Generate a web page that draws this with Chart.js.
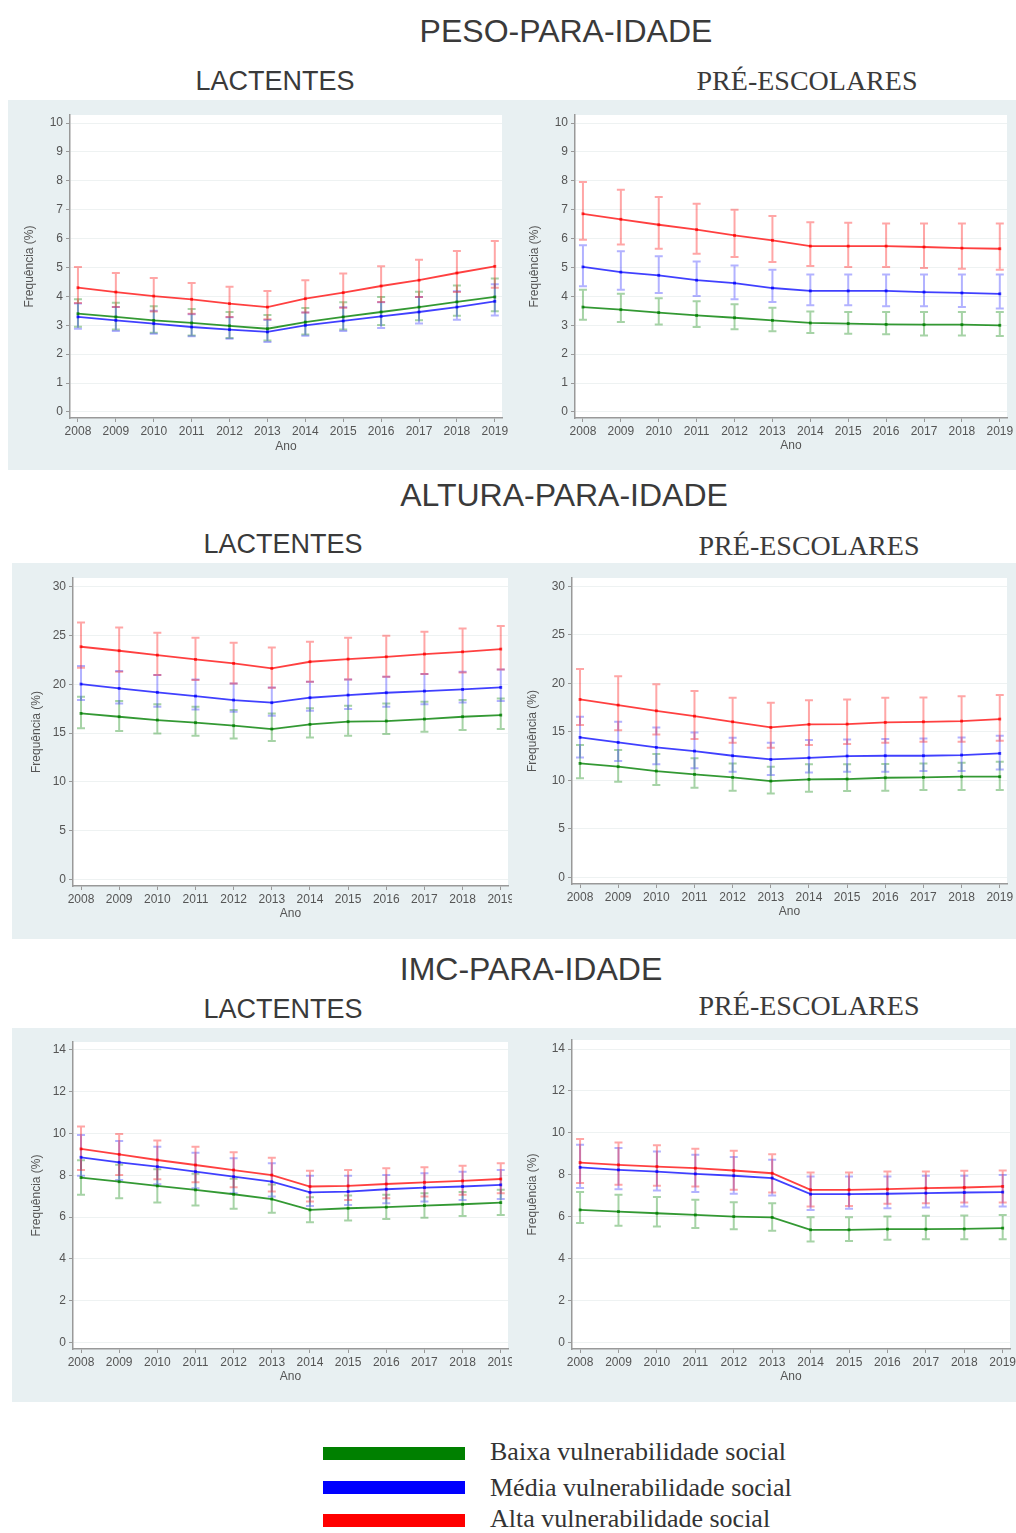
<!DOCTYPE html>
<html lang="pt-BR">
<head>
  <meta charset="UTF-8" />
  <title>Peso, altura e IMC para idade</title>
  <script src="https://cdn.jsdelivr.net/npm/chart.js@4"></script>
  <style>
    body { margin: 0; width: 1016px; height: 1533px; position: relative; overflow: hidden; background: #fff; font-family: "Liberation Sans", Arial, sans-serif; }
    .titulo { position: absolute; width: 440px; height: 40px; line-height: 40px; text-align: center; color: #3a3a3a; white-space: nowrap; }
    .indicador { font-size: 32px; }
    .lac { font-size: 27px; }
    .pre { font-size: 28px; font-family: "Liberation Serif", serif; }
    .painel { position: absolute; background: #e8f0f2; display: block; }
    .barra { position: absolute; left: 323px; width: 142px; height: 13px; }
    .rotulo { position: absolute; left: 490px; height: 30px; line-height: 30px; font-family: "Liberation Serif", serif; font-size: 26px; color: #333; white-space: nowrap; }
  </style>
</head>
<body>
  <div class="titulo indicador" style="left:346px; top:11px">PESO-PARA-IDADE</div>
  <div class="titulo lac" style="left:55px; top:61px">LACTENTES</div>
  <div class="titulo pre" style="left:587px; top:61px">PRÉ-ESCOLARES</div>

  <div class="titulo indicador" style="left:344px; top:475px">ALTURA-PARA-IDADE</div>
  <div class="titulo lac" style="left:63px; top:524px">LACTENTES</div>
  <div class="titulo pre" style="left:589px; top:526px">PRÉ-ESCOLARES</div>

  <div class="titulo indicador" style="left:311px; top:949px">IMC-PARA-IDADE</div>
  <div class="titulo lac" style="left:63px; top:989px">LACTENTES</div>
  <div class="titulo pre" style="left:589px; top:986px">PRÉ-ESCOLARES</div>

  <canvas id="g1" class="painel" width="502" height="370" style="left:8px; top:100px"></canvas>
  <canvas id="g2" class="painel" width="506" height="370" style="left:510px; top:100px"></canvas>
  <canvas id="g3" class="painel" width="500" height="376" style="left:12px; top:563px"></canvas>
  <canvas id="g4" class="painel" width="504" height="376" style="left:512px; top:563px"></canvas>
  <canvas id="g5" class="painel" width="500" height="374" style="left:12px; top:1028px"></canvas>
  <canvas id="g6" class="painel" width="504" height="374" style="left:512px; top:1028px"></canvas>

  <div class="barra" style="top:1447px; background:#008000"></div>
  <div class="rotulo" style="top:1437px">Baixa vulnerabilidade social</div>
  <div class="barra" style="top:1481px; background:#0000ff"></div>
  <div class="rotulo" style="top:1473px">Média vulnerabilidade social</div>
  <div class="barra" style="top:1514px; background:#ff0000"></div>
  <div class="rotulo" style="top:1504px">Alta vulnerabilidade social</div>

  <script>
    const anos = [2008, 2009, 2010, 2011, 2012, 2013, 2014, 2015, 2016, 2017, 2018, 2019];
    const ticksPeso = [0, 1, 2, 3, 4, 5, 6, 7, 8, 9, 10];
    const ticksAltura = [0, 5, 10, 15, 20, 25, 30];
    const ticksImc = [0, 2, 4, 6, 8, 10, 12, 14];

    // Peso-para-idade, lactentes
    const pesoLacBaixa = [3.40, 3.29, 3.17, 3.08, 2.98, 2.88, 3.11, 3.29, 3.46, 3.63, 3.81, 3.98];
    const pesoLacBaixaInf = [2.95, 2.85, 2.74, 2.65, 2.56, 2.47, 2.68, 2.85, 3.01, 3.17, 3.33, 3.49];
    const pesoLacBaixaSup = [3.90, 3.78, 3.66, 3.56, 3.46, 3.36, 3.60, 3.80, 3.98, 4.16, 4.38, 4.62];
    const pesoLacMedia = [3.29, 3.17, 3.06, 2.94, 2.85, 2.77, 3.00, 3.15, 3.31, 3.46, 3.63, 3.83];
    const pesoLacMediaInf = [2.88, 2.80, 2.71, 2.62, 2.53, 2.42, 2.64, 2.80, 2.91, 3.06, 3.19, 3.34];
    const pesoLacMediaSup = [3.75, 3.63, 3.50, 3.38, 3.28, 3.18, 3.44, 3.62, 3.80, 3.98, 4.18, 4.42];
    const pesoLacAlta = [4.30, 4.15, 4.01, 3.90, 3.75, 3.63, 3.92, 4.13, 4.36, 4.56, 4.81, 5.04];
    const pesoLacAltaInf = [3.77, 3.63, 3.48, 3.40, 3.29, 3.21, 3.44, 3.61, 3.81, 3.98, 4.15, 4.30];
    const pesoLacAltaSup = [5.02, 4.81, 4.64, 4.46, 4.33, 4.19, 4.56, 4.79, 5.04, 5.27, 5.57, 5.92];

    // Peso-para-idade, pré-escolares
    const pesoPreBaixa = [3.63, 3.54, 3.44, 3.34, 3.26, 3.17, 3.08, 3.06, 3.03, 3.02, 3.02, 3.00];
    const pesoPreBaixaInf = [3.19, 3.11, 3.03, 2.94, 2.86, 2.79, 2.73, 2.71, 2.69, 2.65, 2.65, 2.63];
    const pesoPreBaixaSup = [4.23, 4.09, 3.94, 3.83, 3.73, 3.61, 3.48, 3.46, 3.46, 3.46, 3.46, 3.46];
    const pesoPreMedia = [5.02, 4.84, 4.73, 4.56, 4.46, 4.29, 4.19, 4.19, 4.19, 4.15, 4.12, 4.09];
    const pesoPreMediaInf = [4.35, 4.23, 4.12, 4.01, 3.90, 3.81, 3.69, 3.69, 3.66, 3.66, 3.63, 3.58];
    const pesoPreMediaSup = [5.77, 5.56, 5.39, 5.21, 5.07, 4.92, 4.76, 4.76, 4.76, 4.76, 4.76, 4.76];
    const pesoPreAlta = [6.86, 6.67, 6.48, 6.31, 6.11, 5.94, 5.74, 5.74, 5.74, 5.71, 5.67, 5.65];
    const pesoPreAltaInf = [5.96, 5.80, 5.65, 5.48, 5.36, 5.19, 5.05, 5.02, 5.02, 4.98, 4.96, 4.92];
    const pesoPreAltaSup = [7.96, 7.69, 7.44, 7.21, 7.00, 6.78, 6.57, 6.55, 6.52, 6.52, 6.52, 6.52];

    // Altura-para-idade, lactentes
    const alturaLacBaixa = [17.01, 16.67, 16.33, 16.06, 15.75, 15.41, 15.89, 16.16, 16.23, 16.43, 16.67, 16.84];
    const alturaLacBaixaInf = [15.48, 15.20, 14.96, 14.72, 14.45, 14.18, 14.55, 14.72, 14.90, 15.13, 15.31, 15.41];
    const alturaLacBaixaSup = [18.72, 18.28, 17.94, 17.70, 17.36, 17.01, 17.53, 17.80, 18.04, 18.21, 18.38, 18.55];
    const alturaLacMedia = [20.02, 19.58, 19.17, 18.79, 18.38, 18.11, 18.62, 18.89, 19.13, 19.30, 19.47, 19.68];
    const alturaLacMediaInf = [18.38, 18.04, 17.70, 17.42, 17.18, 16.77, 17.29, 17.46, 17.70, 17.94, 18.14, 18.28];
    const alturaLacMediaSup = [21.87, 21.35, 20.94, 20.50, 20.09, 19.68, 20.26, 20.50, 20.77, 21.05, 21.28, 21.52];
    const alturaLacAlta = [23.85, 23.44, 22.99, 22.55, 22.14, 21.63, 22.31, 22.58, 22.82, 23.10, 23.33, 23.61];
    const alturaLacAltaInf = [21.69, 21.28, 20.94, 20.43, 20.09, 19.64, 20.26, 20.50, 20.77, 21.05, 21.22, 21.52];
    const alturaLacAltaSup = [26.34, 25.83, 25.28, 24.77, 24.26, 23.78, 24.36, 24.77, 24.97, 25.38, 25.73, 25.97];

    // Altura-para-idade, pré-escolares
    const alturaPreBaixa = [11.74, 11.40, 10.95, 10.61, 10.30, 9.92, 10.09, 10.13, 10.26, 10.30, 10.37, 10.37];
    const alturaPreBaixaInf = [10.20, 9.85, 9.51, 9.23, 8.93, 8.65, 8.82, 8.89, 8.93, 8.99, 8.99, 8.99];
    const alturaPreBaixaSup = [13.63, 13.11, 12.70, 12.26, 11.74, 11.40, 11.64, 11.64, 11.67, 11.74, 11.81, 11.91];
    const alturaPreMedia = [14.42, 13.90, 13.39, 13.01, 12.53, 12.15, 12.32, 12.50, 12.53, 12.53, 12.60, 12.77];
    const alturaPreMediaInf = [12.36, 11.98, 11.64, 11.23, 10.88, 10.54, 10.81, 10.88, 10.88, 10.95, 10.95, 11.12];
    const alturaPreMediaSup = [16.55, 16.03, 15.45, 14.93, 14.38, 13.87, 14.14, 14.21, 14.25, 14.31, 14.42, 14.59];
    const alturaPreAlta = [18.33, 17.75, 17.16, 16.61, 16.03, 15.45, 15.76, 15.79, 15.96, 16.03, 16.10, 16.31];
    const alturaPreAltaInf = [15.69, 15.17, 14.73, 14.25, 13.87, 13.35, 13.63, 13.73, 13.87, 13.97, 13.97, 14.07];
    const alturaPreAltaSup = [21.46, 20.73, 19.91, 19.19, 18.50, 17.99, 18.26, 18.33, 18.50, 18.54, 18.67, 18.78];

    // IMC-para-idade, lactentes
    const imcLacBaixa = [7.89, 7.69, 7.49, 7.30, 7.09, 6.86, 6.34, 6.42, 6.47, 6.55, 6.61, 6.69];
    const imcLacBaixaInf = [7.06, 6.90, 6.70, 6.55, 6.39, 6.21, 5.75, 5.83, 5.91, 5.97, 6.05, 6.10];
    const imcLacBaixaSup = [8.72, 8.50, 8.29, 8.07, 7.83, 7.56, 6.95, 7.03, 7.06, 7.14, 7.20, 7.30];
    const imcLacMedia = [8.86, 8.62, 8.41, 8.17, 7.93, 7.69, 7.18, 7.22, 7.33, 7.41, 7.46, 7.54];
    const imcLacMediaInf = [7.98, 7.77, 7.57, 7.38, 7.14, 6.98, 6.53, 6.58, 6.66, 6.74, 6.82, 6.86];
    const imcLacMediaSup = [9.93, 9.64, 9.37, 9.08, 8.81, 8.57, 7.98, 7.98, 8.01, 8.09, 8.17, 8.25];
    const imcLacAlta = [9.26, 9.00, 8.73, 8.49, 8.25, 8.01, 7.46, 7.49, 7.58, 7.66, 7.73, 7.82];
    const imcLacAltaInf = [8.25, 8.01, 7.81, 7.66, 7.42, 7.22, 6.74, 6.82, 6.90, 6.98, 7.06, 7.14];
    const imcLacAltaSup = [10.33, 9.98, 9.66, 9.37, 9.10, 8.84, 8.21, 8.25, 8.33, 8.38, 8.45, 8.57];

    // IMC-para-idade, pré-escolares
    const imcPreBaixa = [6.32, 6.24, 6.16, 6.08, 6.00, 5.96, 5.37, 5.37, 5.40, 5.40, 5.41, 5.45];
    const imcPreBaixaInf = [5.69, 5.56, 5.53, 5.45, 5.40, 5.32, 4.81, 4.84, 4.89, 4.92, 4.92, 4.92];
    const imcPreBaixaSup = [7.17, 7.04, 6.93, 6.80, 6.69, 6.64, 5.97, 5.97, 6.00, 6.04, 6.05, 6.08];
    const imcPreMedia = [8.35, 8.23, 8.15, 8.04, 7.95, 7.84, 7.07, 7.07, 7.09, 7.12, 7.15, 7.17];
    const imcPreMediaInf = [7.36, 7.31, 7.25, 7.17, 7.09, 7.01, 6.32, 6.37, 6.40, 6.43, 6.48, 6.48];
    const imcPreMediaSup = [9.43, 9.27, 9.11, 8.95, 8.84, 8.71, 7.92, 7.92, 7.92, 7.95, 7.95, 7.99];
    const imcPreAlta = [8.58, 8.47, 8.39, 8.31, 8.20, 8.07, 7.28, 7.28, 7.31, 7.36, 7.39, 7.44];
    const imcPreAltaInf = [7.60, 7.52, 7.47, 7.44, 7.28, 7.15, 6.48, 6.51, 6.61, 6.64, 6.67, 6.67];
    const imcPreAltaSup = [9.71, 9.54, 9.40, 9.24, 9.14, 8.98, 8.11, 8.11, 8.15, 8.15, 8.19, 8.20];

    const verde = { linha: 'rgba(0,128,0,0.8)', ic: 'rgba(0,128,0,0.35)' };
    const azul = { linha: 'rgba(0,0,255,0.75)', ic: 'rgba(0,0,255,0.3)' };
    const vermelho = { linha: 'rgba(255,0,0,0.75)', ic: 'rgba(255,0,0,0.35)' };

    // fundo branco da área do gráfico (estilo Stata)
    const fundoArea = {
      id: 'fundoArea',
      beforeDraw(chart) {
        const { ctx, chartArea: a } = chart;
        ctx.save();
        ctx.fillStyle = '#fff';
        ctx.fillRect(a.left, a.top, a.right - a.left, a.bottom - a.top);
        ctx.restore();
      }
    };

    // intervalos de confiança desenhados com as escalas do gráfico
    const barrasDeErro = {
      id: 'barrasDeErro',
      beforeDatasetsDraw(chart) {
        const { ctx, scales: { x, y } } = chart;
        ctx.save();
        ctx.lineWidth = 2;
        chart.data.datasets.forEach(ds => {
          ctx.strokeStyle = ds.corIC;
          ds.data.forEach((p, i) => {
            const px = x.getPixelForValue(p.x);
            const yi = y.getPixelForValue(ds.inf[i]);
            const ys = y.getPixelForValue(ds.sup[i]);
            ctx.beginPath();
            ctx.moveTo(px, yi); ctx.lineTo(px, ys);
            ctx.moveTo(px - 4, yi); ctx.lineTo(px + 4, yi);
            ctx.moveTo(px - 4, ys); ctx.lineTo(px + 4, ys);
            ctx.stroke();
          });
        });
        ctx.restore();
      }
    };

    function serie(nome, cor, media, inf, sup) {
      return {
        label: nome,
        data: anos.map((a, i) => ({ x: a, y: media[i] })),
        inf: inf,
        sup: sup,
        corIC: cor.ic,
        borderColor: cor.linha,
        backgroundColor: cor.linha,
        borderWidth: 1.8,
        pointStyle: 'rect',
        pointRadius: 2,
        pointBorderWidth: 0,
        tension: 0
      };
    }

    // pos: [esquerda, topo, direita, base] da área do gráfico no canvas
    function criarGrafico(id, pos, tituloX, anoY, yMin, yMax, yTicks, series) {
      const canvas = document.getElementById(id);
      const w = canvas.width, h = canvas.height;
      const padEsq = tituloX - 11.2;
      const padBase = h - anoY - 11.2;
      new Chart(canvas, {
        type: 'line',
        data: { datasets: series },
        options: {
          responsive: false,
          animation: false,
          layout: { padding: { left: padEsq, top: pos[1], right: w - pos[2], bottom: padBase } },
          plugins: { legend: { display: false }, tooltip: { enabled: false } },
          scales: {
            x: {
              type: 'linear',
              min: 2007.79,
              max: 2019.19,
              afterBuildTicks: ax => { ax.ticks = anos.map(v => ({ value: v })); },
              afterFit: ax => { ax.height = h - padBase - pos[3]; ax.paddingLeft = 0; ax.paddingRight = 0; },
              grid: { drawOnChartArea: false, drawTicks: true, tickLength: 4, tickColor: '#999' },
              border: { display: true, color: '#999', width: 1.5 },
              ticks: { autoSkip: false, maxRotation: 0, padding: 2, color: '#555', font: { family: 'Liberation Sans', size: 12 }, callback: v => String(v) },
              title: { display: true, text: 'Ano', color: '#555', font: { family: 'Liberation Sans', size: 12 }, padding: { top: 4, bottom: 4 } }
            },
            y: {
              min: yMin,
              max: yMax,
              afterBuildTicks: ax => { ax.ticks = yTicks.map(v => ({ value: v })); },
              afterFit: ax => { ax.width = pos[0] - padEsq; ax.paddingTop = 0; ax.paddingBottom = 0; },
              grid: { color: '#eef2f2', lineWidth: 1, drawTicks: true, tickLength: 4, tickColor: '#999' },
              border: { display: true, color: '#999', width: 1.5 },
              ticks: { padding: 3, color: '#555', font: { family: 'Liberation Sans', size: 12 } },
              title: { display: true, text: 'Frequência (%)', color: '#555', font: { family: 'Liberation Sans', size: 12 }, padding: { top: 4, bottom: 4 } }
            }
          }
        },
        plugins: [fundoArea, barrasDeErro]
      });
    }

    criarGrafico('g1', [62, 15, 494, 318], 22, 347, -0.21, 10.28, ticksPeso, [
      serie('Baixa vulnerabilidade social', verde, pesoLacBaixa, pesoLacBaixaInf, pesoLacBaixaSup),
      serie('Média vulnerabilidade social', azul, pesoLacMedia, pesoLacMediaInf, pesoLacMediaSup),
      serie('Alta vulnerabilidade social', vermelho, pesoLacAlta, pesoLacAltaInf, pesoLacAltaSup)
    ]);
    criarGrafico('g2', [65, 15, 497, 318], 25, 346, -0.21, 10.28, ticksPeso, [
      serie('Baixa vulnerabilidade social', verde, pesoPreBaixa, pesoPreBaixaInf, pesoPreBaixaSup),
      serie('Média vulnerabilidade social', azul, pesoPreMedia, pesoPreMediaInf, pesoPreMediaSup),
      serie('Alta vulnerabilidade social', vermelho, pesoPreAlta, pesoPreAltaInf, pesoPreAltaSup)
    ]);
    criarGrafico('g3', [61, 15, 498, 323], 25, 351, -0.69, 30.9, ticksAltura, [
      serie('Baixa vulnerabilidade social', verde, alturaLacBaixa, alturaLacBaixaInf, alturaLacBaixaSup),
      serie('Média vulnerabilidade social', azul, alturaLacMedia, alturaLacMediaInf, alturaLacMediaSup),
      serie('Alta vulnerabilidade social', vermelho, alturaLacAlta, alturaLacAltaInf, alturaLacAltaSup)
    ]);
    criarGrafico('g4', [60, 15, 495, 321], 21, 349, -0.69, 30.85, ticksAltura, [
      serie('Baixa vulnerabilidade social', verde, alturaPreBaixa, alturaPreBaixaInf, alturaPreBaixaSup),
      serie('Média vulnerabilidade social', azul, alturaPreMedia, alturaPreMediaInf, alturaPreMediaSup),
      serie('Alta vulnerabilidade social', vermelho, alturaPreAlta, alturaPreAltaInf, alturaPreAltaSup)
    ]);
    criarGrafico('g5', [61, 14, 498, 321], 25, 349, -0.32, 14.38, ticksImc, [
      serie('Baixa vulnerabilidade social', verde, imcLacBaixa, imcLacBaixaInf, imcLacBaixaSup),
      serie('Média vulnerabilidade social', azul, imcLacMedia, imcLacMediaInf, imcLacMediaSup),
      serie('Alta vulnerabilidade social', vermelho, imcLacAlta, imcLacAltaInf, imcLacAltaSup)
    ]);
    criarGrafico('g6', [60, 12, 498, 321], 21, 349, -0.32, 14.43, ticksImc, [
      serie('Baixa vulnerabilidade social', verde, imcPreBaixa, imcPreBaixaInf, imcPreBaixaSup),
      serie('Média vulnerabilidade social', azul, imcPreMedia, imcPreMediaInf, imcPreMediaSup),
      serie('Alta vulnerabilidade social', vermelho, imcPreAlta, imcPreAltaInf, imcPreAltaSup)
    ]);
  </script>
</body>
</html>
